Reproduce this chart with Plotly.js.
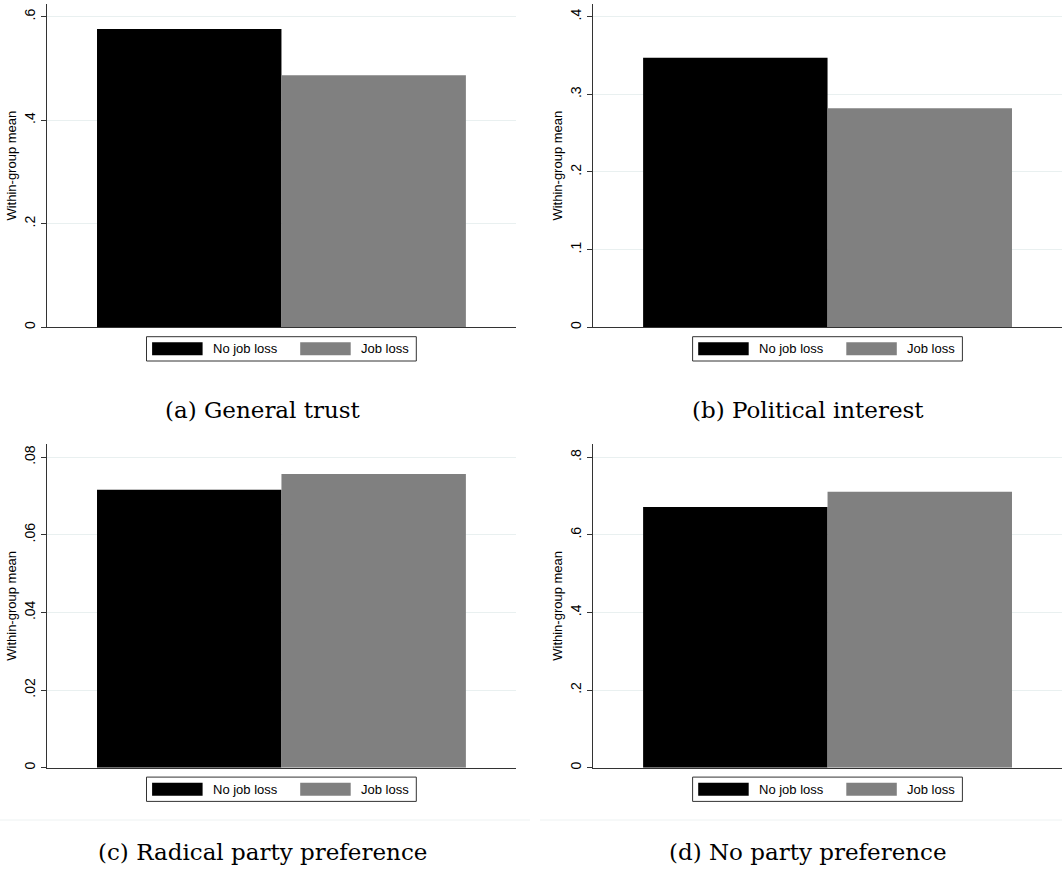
<!DOCTYPE html>
<html>
<head>
<meta charset="utf-8">
<script src="https://cdn.plot.ly/plotly-3.0.1.min.js"></script>
<style>
  html, body { margin: 0; padding: 0; background: #ffffff; }
  #chart { width: 1062px; height: 870px; }
</style>
</head>
<body>
<div id="chart"></div>
<script>
// ---- data ----
const captions = ['(a) General trust', '(b) Political interest', '(c) Radical party preference', '(d) No party preference'];
const seriesNames = ['No job loss', 'Job loss'];
const seriesColors = ['#000000', '#808080'];
const noJobLoss = [0.576, 0.347, 0.0716, 0.672];
const jobLoss = [0.487, 0.282, 0.0757, 0.711];
const tickVals = [
  [0, 0.2, 0.4, 0.6],
  [0, 0.1, 0.2, 0.3, 0.4],
  [0, 0.02, 0.04, 0.06, 0.08],
  [0, 0.2, 0.4, 0.6, 0.8]
];
const tickText = [
  ['0', '.2', '.4', '.6'],
  ['0', '.1', '.2', '.3', '.4'],
  ['0', '.02', '.04', '.06', '.08'],
  ['0', '.2', '.4', '.6', '.8']
];
const yTitle = 'Within-group mean';

// ---- layout helpers (pixel geometry of the page) ----
const W = 1062, H = 870;
const px = x => x / W;
const py = y => 1 - y / H;
// panel origins: [x of y-axis line, y of zero line]
const colX = [46.7, 592.8];
const rowTop = [4, 444];
const rowZero = [327.3, 767.7];
const plotW = 469.5;
const yMax = [0.6245, 0.4163, 0.0834, 0.834];

const traces = [];
const layout = {
  width: W, height: H,
  margin: {l: 0, r: 0, t: 0, b: 0},
  paper_bgcolor: '#ffffff',
  plot_bgcolor: '#ffffff',
  barmode: 'group',
  bargap: 0.2143,
  bargroupgap: 0,
  showlegend: false,
  hovermode: false,
  font: {family: 'Liberation Sans, Arial, sans-serif', size: 13, color: '#000000'},
  shapes: [],
  annotations: []
};

for (let i = 0; i < 4; i++) {
  const col = i % 2, row = Math.floor(i / 2);
  const n = i + 1;
  const xa = 'x' + (n === 1 ? '' : n);
  const ya = 'y' + (n === 1 ? '' : n);
  const x0 = colX[col], x1 = Math.min(colX[col] + plotW, W);
  const xmax = -0.5 + (x1 - x0) / plotW;

  traces.push({
    type: 'bar', x: [0], y: [noJobLoss[i]], name: seriesNames[0],
    marker: {color: seriesColors[0], line: {width: 0}},
    xaxis: xa, yaxis: ya, hoverinfo: 'skip'
  });
  traces.push({
    type: 'bar', x: [0], y: [jobLoss[i]], name: seriesNames[1],
    marker: {color: seriesColors[1], line: {width: 0}},
    xaxis: xa, yaxis: ya, hoverinfo: 'skip'
  });

  layout['xaxis' + (n === 1 ? '' : n)] = {
    domain: [px(x0), px(x1)],
    range: [-0.5, xmax],
    anchor: ya,
    showticklabels: false, ticks: '', showgrid: false, zeroline: false,
    showline: true, linecolor: '#333333', linewidth: 1,
    fixedrange: true
  };
  layout['yaxis' + (n === 1 ? '' : n)] = {
    domain: [py(rowZero[row]), py(rowTop[row])],
    range: [0, yMax[i]],
    anchor: xa,
    tickmode: 'array', tickvals: tickVals[i], ticktext: tickText[i],
    tickangle: -90,
    ticks: 'outside', ticklen: 5, tickwidth: 1, tickcolor: '#333333',
    tickfont: {family: 'Liberation Sans, Arial, sans-serif', size: 14, color: '#000000'},
    showgrid: true, gridcolor: '#e9f0f0', gridwidth: 1,
    zeroline: false,
    showline: true, linecolor: '#333333', linewidth: 1,
    title: {text: yTitle, standoff: 2, font: {family: 'Liberation Sans, Arial, sans-serif', size: 13, color: '#000000'}},
    fixedrange: true
  };

  // legend (drawn as box + swatches + labels)
  const dx = x0 - colX[0];
  const dy = rowZero[row] - rowZero[0];
  layout.shapes.push({
    type: 'rect', xref: 'paper', yref: 'paper',
    x0: px(146.5 + dx), x1: px(416.3 + dx), y0: py(336.7 + dy), y1: py(361 + dy),
    line: {color: '#333333', width: 1}, fillcolor: '#ffffff'
  });
  const swX = [152.1, 300.2];
  const txX = [211.3, 359];
  for (let s = 0; s < 2; s++) {
    layout.shapes.push({
      type: 'rect', xref: 'paper', yref: 'paper',
      x0: px(swX[s] + dx), x1: px(swX[s] + 50.5 + dx), y0: py(342.3 + dy), y1: py(355.3 + dy),
      line: {width: 0}, fillcolor: seriesColors[s]
    });
    layout.annotations.push({
      xref: 'paper', yref: 'paper', x: px(txX[s] + dx), y: py(348.8 + dy),
      xanchor: 'left', yanchor: 'middle', showarrow: false,
      text: seriesNames[s],
      font: {family: 'Liberation Sans, Arial, sans-serif', size: 13, color: '#000000'}
    });
  }

  // caption
  layout.annotations.push({
    xref: 'paper', yref: 'paper',
    x: px(col === 0 ? 262.5 : 808), y: py(row === 0 ? 410 : 852),
    xanchor: 'center', yanchor: 'middle', showarrow: false,
    text: captions[i],
    font: {family: 'DejaVu Serif, serif', size: 23, color: '#000000'}
  });
}

// faint separators under the bottom panels
layout.shapes.push({type: 'line', xref: 'paper', yref: 'paper', x0: px(0), x1: px(530), y0: py(820), y1: py(820), line: {color: '#edf2f2', width: 1}});
layout.shapes.push({type: 'line', xref: 'paper', yref: 'paper', x0: px(540), x1: px(1062), y0: py(820), y1: py(820), line: {color: '#edf2f2', width: 1}});

Plotly.newPlot('chart', traces, layout, {staticPlot: true, displayModeBar: false});
</script>
</body>
</html>
